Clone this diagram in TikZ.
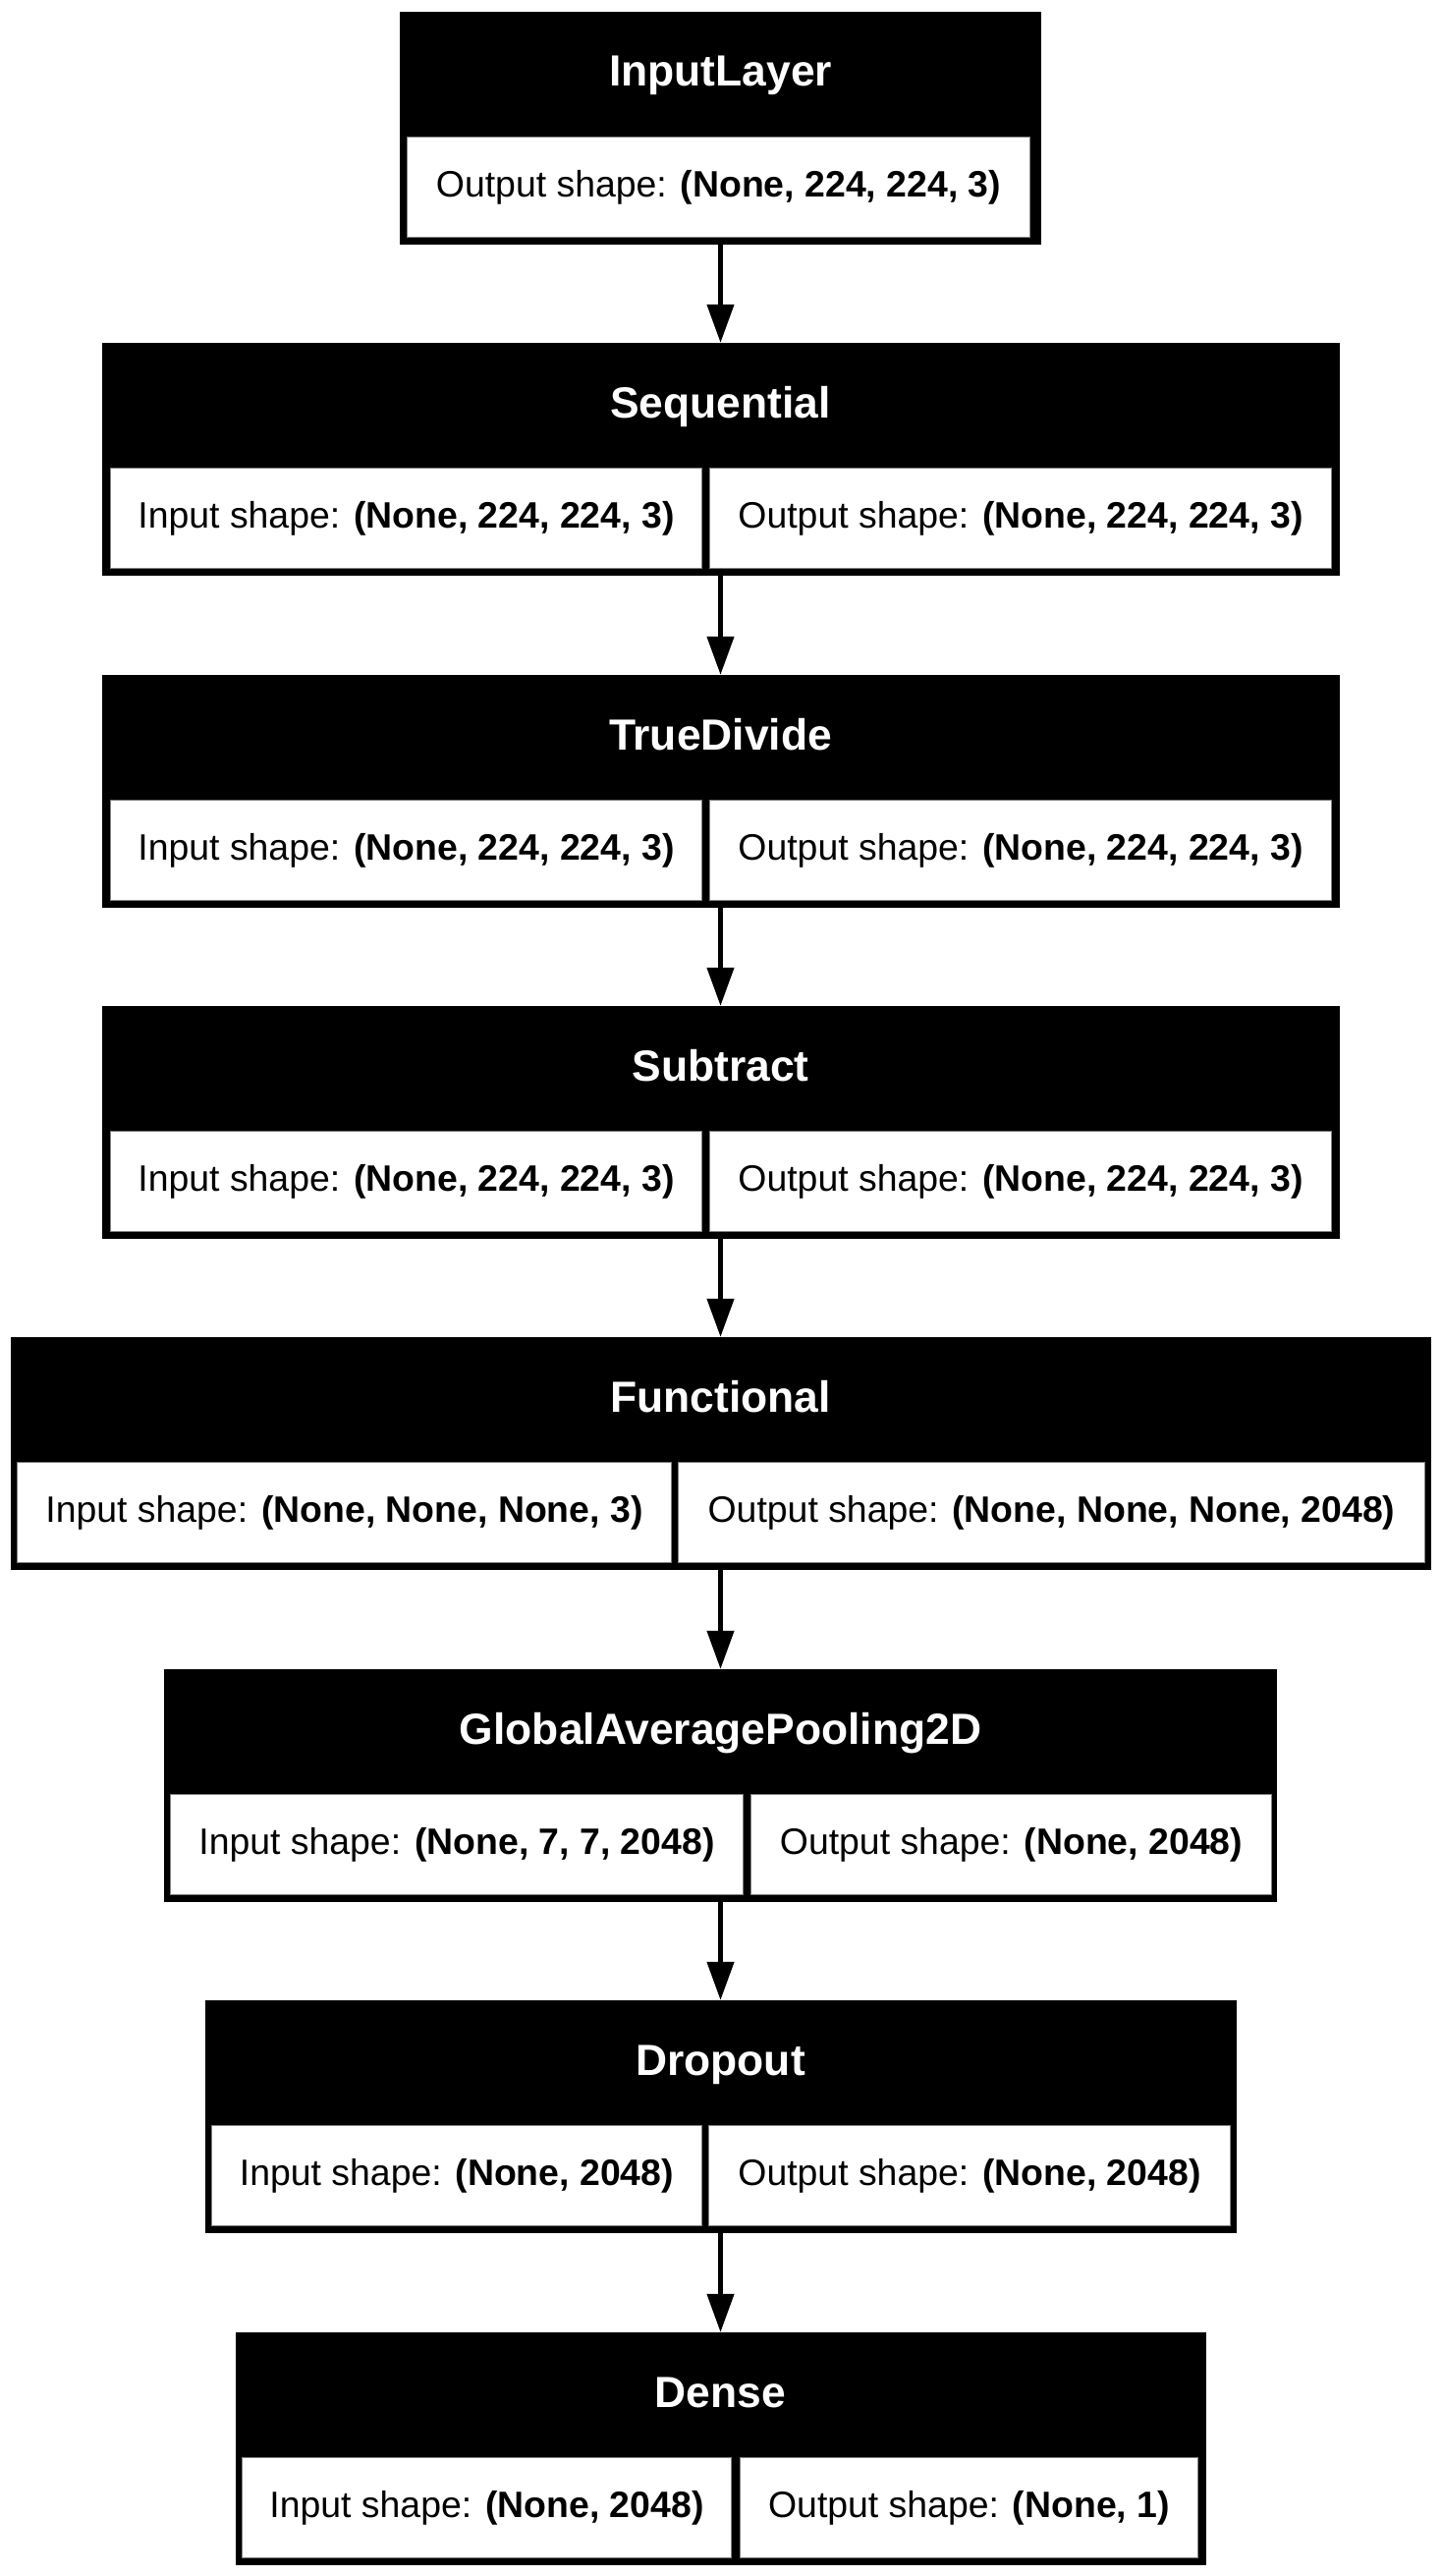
\documentclass[tikz,border=0pt]{standalone}
\usepackage{fontspec}
\setmainfont{Liberation Sans}
\usetikzlibrary{arrows.meta}

\begin{document}
\begin{tikzpicture}[x=1pt,y=-1pt,
	layerBox/.style={rectangle, fill=black, inner sep=0pt, minimum height=237pt},
	layerTitle/.style={anchor=base, text=white, font=\fontsize{44.4}{52}\selectfont\bfseries},
	shapeCell/.style={rectangle, anchor=north west, fill=white, draw=gray, line width=1pt, inner xsep=0pt, inner ysep=0pt, minimum height=102pt, text height=61pt, text depth=41pt, font=\fontsize{37.4}{44}\selectfont},
	flowArrow/.style={line width=4.5pt, -{Triangle[length=39pt,width=27pt]}}]
		
		\useasboundingbox (0,0) rectangle (1467,2622);
		
		% Layers
		
		\node[layerBox, minimum width=653pt]
		(inputBox) at (733.5,130.5) {};
		\node[layerTitle] (inputTitle) at (733.5,88) {InputLayer};
		\node[shapeCell, minimum width=634pt]
		(inputOut) at (414,139) {Output shape: \textbf{(None, 224, 224, 3)}};
		
		\node[layerBox, minimum width=1260pt]
		(seqBox) at (733.5,467.5) {};
		\node[layerTitle] (seqTitle) at (733.5,425) {Sequential};
		\node[shapeCell, minimum width=602pt]
		(seqIn) at (112,476) {Input shape: \textbf{(None, 224, 224, 3)}};
		\node[shapeCell, minimum width=633pt]
		(seqOut) at (722,476) {Output shape: \textbf{(None, 224, 224, 3)}};
		
		\node[layerBox, minimum width=1260pt]
		(divBox) at (733.5,805.5) {};
		\node[layerTitle] (divTitle) at (733.5,763) {TrueDivide};
		\node[shapeCell, minimum width=602pt]
		(divIn) at (112,814) {Input shape: \textbf{(None, 224, 224, 3)}};
		\node[shapeCell, minimum width=633pt]
		(divOut) at (722,814) {Output shape: \textbf{(None, 224, 224, 3)}};
		
		\node[layerBox, minimum width=1260pt]
		(subBox) at (733.5,1142.5) {};
		\node[layerTitle] (subTitle) at (733.5,1100) {Subtract};
		\node[shapeCell, minimum width=602pt]
		(subIn) at (112,1151) {Input shape: \textbf{(None, 224, 224, 3)}};
		\node[shapeCell, minimum width=633pt]
		(subOut) at (722,1151) {Output shape: \textbf{(None, 224, 224, 3)}};
		
		\node[layerBox, minimum width=1446pt]
		(funcBox) at (733.5,1479.5) {};
		\node[layerTitle] (funcTitle) at (733.5,1437) {Functional};
		\node[shapeCell, minimum width=666pt]
		(funcIn) at (17,1488) {Input shape: \textbf{(None, None, None, 3)}};
		\node[shapeCell, minimum width=760pt]
		(funcOut) at (690,1488) {Output shape: \textbf{(None, None, None, 2048)}};
		
		\node[layerBox, minimum width=1133pt]
		(poolBox) at (733.5,1817.5) {};
		\node[layerTitle] (poolTitle) at (733.5,1775) {GlobalAveragePooling2D};
		\node[shapeCell, minimum width=583pt]
		(poolIn) at (173,1826) {Input shape: \textbf{(None, 7, 7, 2048)}};
		\node[shapeCell, minimum width=530pt]
		(poolOut) at (764,1826) {Output shape: \textbf{(None, 2048)}};
		
		\node[layerBox, minimum width=1050pt]
		(dropBox) at (733.5,2154.5) {};
		\node[layerTitle] (dropTitle) at (733.5,2112) {Dropout};
		\node[shapeCell, minimum width=499pt]
		(dropIn) at (215,2163) {Input shape: \textbf{(None, 2048)}};
		\node[shapeCell, minimum width=531pt]
		(dropOut) at (721,2163) {Output shape: \textbf{(None, 2048)}};
		
		\node[layerBox, minimum width=988pt]
		(denseBox) at (733.5,2492.5) {};
		\node[layerTitle] (denseTitle) at (733.5,2450) {Dense};
		\node[shapeCell, minimum width=498pt]
		(denseIn) at (246,2501) {Input shape: \textbf{(None, 2048)}};
		\node[shapeCell, minimum width=466pt]
		(denseOut) at (753,2501) {Output shape: \textbf{(None, 1)}};
		
		% Arrows
		
		\draw[flowArrow] (inputBox) -- (seqBox);
		
		\draw[flowArrow] (seqBox) -- (divBox);
		
		\draw[flowArrow] (divBox) -- (subBox);
		
		\draw[flowArrow] (subBox) -- (funcBox);
		
		\draw[flowArrow] (funcBox) -- (poolBox);
		
		\draw[flowArrow] (poolBox) -- (dropBox);
		
		\draw[flowArrow] (dropBox) -- (denseBox);
		
	\end{tikzpicture}
\end{document}
